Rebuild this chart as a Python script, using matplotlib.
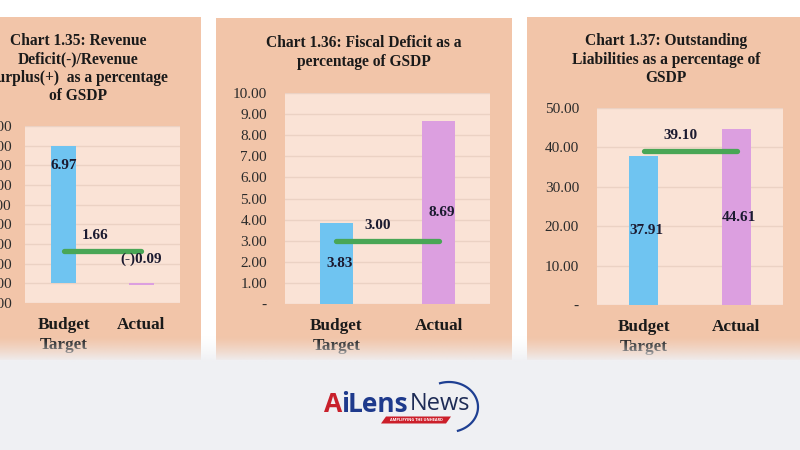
import numpy as np
import matplotlib.pyplot as plt
from matplotlib.patches import Rectangle, Polygon

# Chart data
categories = ["Budget\nTarget", "Actual"]

titles = ["Chart 1.35: Revenue\nDeficit(-)/Revenue\nSurplus(+)  as a percentage\nof GSDP",
          "Chart 1.36: Fiscal Deficit as a\npercentage of GSDP",
          "Chart 1.37: Outstanding\nLiabilities as a percentage of\nGSDP"]

revenue_bars = [6.97, -0.09]
revenue_target = 1.66
revenue_labels = ["6.97", "(-)0.09"]

fiscal_bars = [3.83, 8.69]
fiscal_target = 3.00
fiscal_labels = ["3.83", "8.69"]

liab_bars = [37.91, 44.61]
liab_target = 39.10
liab_labels = ["37.91", "44.61"]

rev_ticks = [-1, 0, 1, 2, 3, 4, 5, 6, 7, 8]
fis_ticks = [0, 1, 2, 3, 4, 5, 6, 7, 8, 9, 10]
liab_ticks = [0, 10, 20, 30, 40, 50]

# colours
PANEL = "#f2c5a9"
PLOT = "#fae3d6"
GRID = "#ebd2c4"
BLUE = "#6fc4f1"
PINK = "#dc9fe0"
GREEN = "#49a656"
DARK = "#1b1a30"
GREYBG = "#eff0f3"

plt.rcParams['font.family'] = ['Liberation Serif', 'DejaVu Serif']

fig = plt.figure(figsize=(8, 4.5), dpi=100, facecolor="white")

# background in pixel coordinates
bg = fig.add_axes([0, 0, 1, 1], zorder=-2)
bg.set_xlim(0, 800)
bg.set_ylim(450, 0)
bg.axis("off")
for x0, x1, y0 in [(-5, 201, 17), (216, 512, 18), (527, 805, 17)]:
    bg.add_patch(Rectangle((x0, y0), x1 - x0, 360 - y0, color=PANEL, lw=0))


def chart(rect, bars, target, labels, ticks, ylim, pad_label, tick_fmt, ypad):
    ax = fig.add_axes(rect)
    ax.set_facecolor(PLOT)
    x = np.arange(len(categories))
    ax.bar(x, bars, width=0.32, color=[BLUE, PINK], zorder=2)
    ax.plot(x, [target] * len(x), color=GREEN, lw=3.8, solid_capstyle="round", zorder=3)
    ax.annotate(f"{target:.2f}", (0.4, target), xytext=(0, 11), textcoords="offset points",
                ha="center", va="center", fontsize=11, fontweight="bold", color=DARK, zorder=4)
    for xi, v, lab, off in zip(x, bars, labels, pad_label):
        if off is None:
            ax.text(xi + 0.03, v / 2, lab, ha="center", va="center", fontsize=11,
                    fontweight="bold", color=DARK, zorder=4)
        else:
            ax.annotate(lab, (xi, max(v, 0)), xytext=(0, off), textcoords="offset points",
                        ha="center", va="center", fontsize=11, fontweight="bold",
                        color=DARK, zorder=4)
    ax.set_xlim(-0.5, 1.5)
    ax.set_ylim(*ylim)
    ax.set_yticks(ticks)
    ax.set_yticklabels([tick_fmt(t) for t in ticks])
    ax.set_xticks(x)
    ax.set_xticklabels(categories, fontsize=12.3, fontweight="bold", color="#1a1a1a",
                       linespacing=1.38)
    ax.tick_params(axis="y", length=0, pad=ypad, labelsize=11, labelcolor="#2b2b2b")
    ax.tick_params(axis="x", length=0, pad=10)
    ax.yaxis.grid(True, color=GRID, lw=1)
    ax.set_axisbelow(True)
    for s in ax.spines.values():
        s.set_visible(False)
    return ax


def acc(v):
    return "-" if v == 0 else f"{v:.2f}"


chart([25 / 800, 1 - 303 / 450, 155 / 800, 177 / 450], revenue_bars, revenue_target,
      revenue_labels, rev_ticks, (-1, 8), [-14, 17.5], lambda v: f"{v:.2f}", 9.5)
chart([285 / 800, 1 - 304 / 450, 205 / 800, 211 / 450], fiscal_bars, fiscal_target,
      fiscal_labels, fis_ticks, (0, 10), [None, None], acc, 13)
chart([597 / 800, 1 - 305 / 450, 186 / 800, 197 / 450], liab_bars, liab_target,
      liab_labels, liab_ticks, (0, 50), [None, None], acc, 13)

# titles
for (cx, cy, ls), t in zip([(78, 68.5, 1.19), (364, 52.5, 1.27), (666, 59.5, 1.19)], titles):
    bg.text(cx, cy, t, ha="center", va="center", fontsize=11.2, fontweight="bold",
            color="#1a1a1a", linespacing=ls, multialignment="center")

# bottom fade and grey area
ov = fig.add_axes([0, 0, 1, 1], zorder=5)
ov.set_xlim(0, 800)
ov.set_ylim(450, 0)
ov.axis("off")
ov.patch.set_alpha(0)
grad = np.zeros((50, 2, 4))
grad[..., :3] = np.array([0xef, 0xf0, 0xf3]) / 255
grad[..., 3] = np.linspace(0, 1, 50)[:, None] ** 1.3
ov.imshow(grad, extent=(0, 800, 362, 336), aspect="auto", interpolation="bilinear")
ov.add_patch(Rectangle((0, 361.5), 800, 90, color=GREYBG, lw=0))

# logo
lf = ['Open Sans', 'DejaVu Sans']
ov.text(324, 404, "A", fontsize=19, fontweight="bold", color="#c8202b", family=lf,
        va="center", ha="left")
ov.text(341, 404, "i", fontsize=19, fontweight="bold", color="#1e3a8c", family=lf,
        va="center", ha="left")
ov.text(348, 404, "Lens", fontsize=19, fontweight="bold", color="#1e3a8c", family=lf,
        va="center", ha="left")
ov.text(410, 404, "News", fontsize=17, color="#1d2b55", family=lf, va="center", ha="left")
ov.add_patch(Polygon([(381, 423.5), (386, 416.5), (451, 416.5), (446, 423.5)],
                     color="#cc1f2a", lw=0))
ov.text(416, 420, "AMPLIFYING THE UNHEARD", fontsize=2.8, color="white", family=lf,
        ha="center", va="center", fontweight="bold")
t = np.radians(np.linspace(-108, 72, 80))
ov.plot(449 + 29 * np.cos(t), 407 + 25 * np.sin(t), color="#1e3f92", lw=1.6)

fig.savefig("out.png", dpi=100, facecolor="white")
